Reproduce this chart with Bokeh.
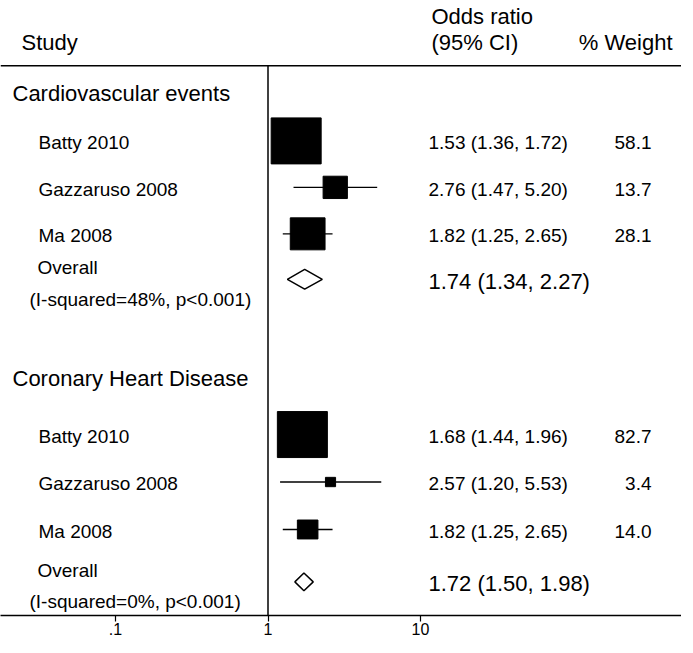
from bokeh.plotting import figure
from bokeh.models import Range1d, FixedTicker, Span, ColumnDataSource
from bokeh.core.properties import value
from bokeh.embed import file_html
from bokeh.resources import INLINE

# ---------------- data ----------------
group_names = ["Cardiovascular events", "Coronary Heart Disease"]
studies = ["Batty 2010", "Gazzaruso 2008", "Ma 2008"]

cvd_or = [1.53, 2.76, 1.82]
cvd_lo = [1.36, 1.47, 1.25]
cvd_hi = [1.72, 5.20, 2.65]
cvd_weight = [58.1, 13.7, 28.1]
cvd_overall = [1.74, 1.34, 2.27]
cvd_het = "(I-squared=48%, p<0.001)"

chd_or = [1.68, 2.57, 1.82]
chd_lo = [1.44, 1.20, 1.25]
chd_hi = [1.96, 5.53, 2.65]
chd_weight = [82.7, 3.4, 14.0]
chd_overall = [1.72, 1.50, 1.98]
chd_het = "(I-squared=0%, p<0.001)"

tick_values = [0.1, 1, 10]
tick_labels = [".1", "1", "10"]

# ---------------- layout / style ----------------
W, H = 681, 637
PX1 = 267.5      # canvas x of OR = 1
DEC = 152.5      # pixels per decade
FONT = value("Liberation Sans")

def xd(px):
    return 10 ** ((px - PX1) / DEC)

header_y = [94, 382]
first_gap = [48, 57]
row_step = [47, 48]
overall_gap = [46, 53]
diamond_half = [10, 9]
box_w, box_h = 50, 46

p = figure(width=W, height=H, x_axis_type="log",
           x_range=Range1d(xd(0), xd(W)), y_range=Range1d(622, 0),
           output_backend="svg", toolbar_location=None, y_axis_location=None,
           min_border=0, outline_line_color=None)
p.grid.visible = False

ax = p.xaxis[0]
ax.ticker = FixedTicker(ticks=tick_values)
ax.major_label_overrides = {v: l for v, l in zip(tick_values, tick_labels)}
ax.minor_tick_line_color = None
ax.major_tick_in = 0
ax.major_tick_out = 6
ax.major_tick_line_width = 1.2
ax.axis_line_width = 1.5
ax.major_label_text_font = "Liberation Sans"
ax.major_label_text_font_size = "16px"
ax.major_label_text_color = "black"
ax.major_label_standoff = 1

# header line and reference line
p.add_layout(Span(location=66, dimension="width", line_color="black", line_width=1.5))
p.segment(x0=[1], x1=[1], y0=[66], y1=[622], line_color="black", line_width=1.5)

def add_text(xs, ys, texts, size, align="left"):
    p.text(x=xs, y=ys, text=texts, text_font=FONT, text_font_size=size,
           text_baseline="middle", text_align=align, text_color="black")

# column headers
add_text([xd(21)], [42], ["Study"], "22px")
add_text([xd(431), xd(431)], [16, 42], ["Odds ratio", "(95% CI)"], "22px")
add_text([xd(672)], [42], ["% Weight"], "22px", align="right")

groups = [
    (cvd_or, cvd_lo, cvd_hi, cvd_weight, cvd_overall, cvd_het),
    (chd_or, chd_lo, chd_hi, chd_weight, chd_overall, chd_het),
]

for g, (ors, los, his, ws, ov, het) in enumerate(groups):
    hy = header_y[g]
    ys = [hy + first_gap[g] + k * row_step[g] for k in range(len(ors))]
    oy = ys[-1] + overall_gap[g]
    wmax = max(ws)
    scale = [(w / wmax) ** 0.5 for w in ws]

    add_text([xd(12)], [hy], [group_names[g]], "22px")

    # CI lines
    p.segment(x0=los, x1=his, y0=ys, y1=ys, line_color="black", line_width=1.3)
    # weight boxes
    src = ColumnDataSource(dict(x=ors, y=ys, w=[box_w * s for s in scale],
                                h=[box_h * s for s in scale]))
    p.rect(x="x", y="y", width="w", height="h", width_units="screen",
           height_units="screen", source=src, fill_color="black", line_color="black")

    # overall diamond
    dh = diamond_half[g]
    p.patch(x=[ov[1], ov[0], ov[2], ov[0], ov[1]],
            y=[oy, oy - dh, oy, oy + dh, oy],
            fill_color="white", line_color="black", line_width=1.5)

    # texts
    add_text([xd(38)] * len(studies), [y + 2 for y in ys], studies, "19px")
    add_text([xd(37)], [oy - 12], ["Overall"], "19px")
    add_text([xd(29)], [oy + 20], [het], "19px")
    add_text([xd(428)] * len(ors), [y + 2 for y in ys],
             [f"{o:.2f} ({l:.2f}, {h:.2f})" for o, l, h in zip(ors, los, his)], "19px")
    add_text([xd(651)] * len(ws), [y + 2 for y in ys],
             [f"{w:.1f}" for w in ws], "19px", align="right")
    add_text([xd(428)], [oy + 2], [f"{ov[0]:.2f} ({ov[1]:.2f}, {ov[2]:.2f})"], "22px")

open("out.html", "w").write(file_html(p, INLINE))
